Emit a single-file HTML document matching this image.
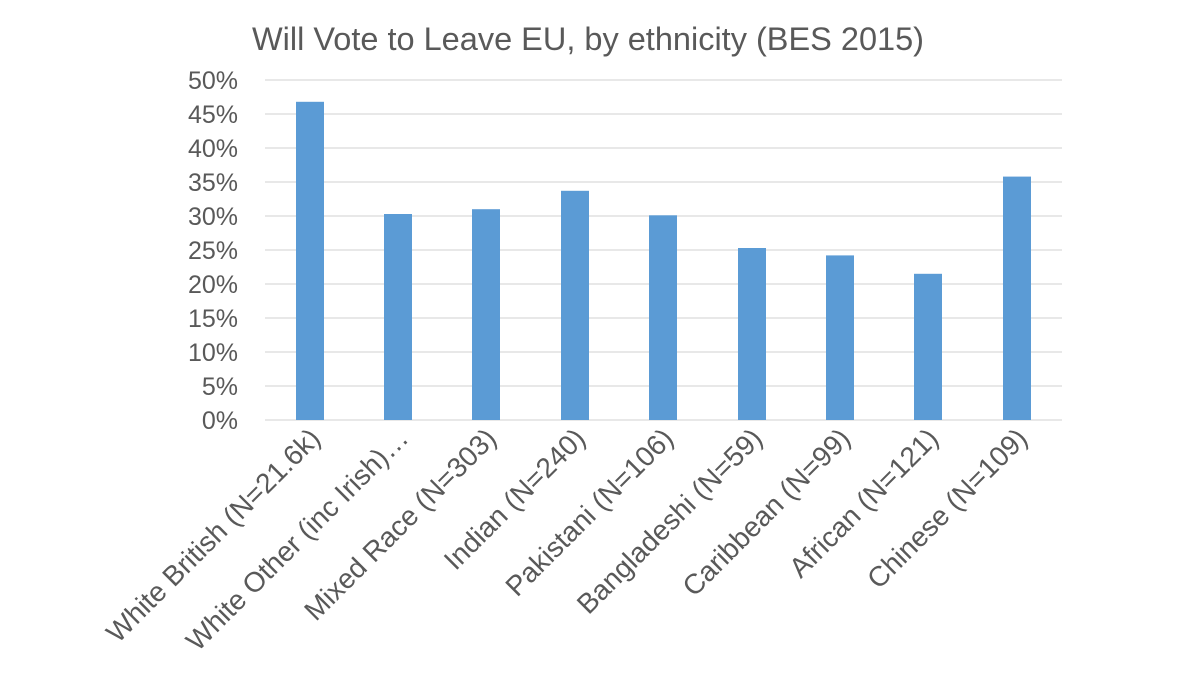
<!DOCTYPE html>
<html><head><meta charset="utf-8"><style>
body{margin:0;background:#fff;}
svg text{font-family:"Liberation Sans",sans-serif;fill:#595959;}
</style></head><body>
<svg width="1200" height="675" viewBox="0 0 1200 675" xmlns="http://www.w3.org/2000/svg">
<rect width="1200" height="675" fill="#fff"/>
<text x="588" y="50" font-size="32.5" text-anchor="middle">Will Vote to Leave EU, by ethnicity (BES 2015)</text>
<g stroke="#d9d9d9" stroke-width="1.3">
<line x1="265" x2="1062" y1="80" y2="80"/>
<line x1="265" x2="1062" y1="114" y2="114"/>
<line x1="265" x2="1062" y1="148" y2="148"/>
<line x1="265" x2="1062" y1="182" y2="182"/>
<line x1="265" x2="1062" y1="216" y2="216"/>
<line x1="265" x2="1062" y1="250" y2="250"/>
<line x1="265" x2="1062" y1="284" y2="284"/>
<line x1="265" x2="1062" y1="318" y2="318"/>
<line x1="265" x2="1062" y1="352" y2="352"/>
<line x1="265" x2="1062" y1="386" y2="386"/>
<line x1="265" x2="1062" y1="420" y2="420"/>
</g>
<g font-size="25" text-anchor="end">
<text x="238" y="89">50%</text><text x="238" y="123">45%</text><text x="238" y="157">40%</text>
<text x="238" y="191">35%</text><text x="238" y="225">30%</text><text x="238" y="259">25%</text>
<text x="238" y="293">20%</text><text x="238" y="327">15%</text><text x="238" y="361">10%</text>
<text x="238" y="395">5%</text><text x="238" y="429">0%</text>
</g>
<g fill="#5b9bd5">
<rect x="296" y="101.8" width="28" height="318.2"/>
<rect x="384" y="214" width="28" height="206"/>
<rect x="472" y="209.2" width="28" height="210.8"/>
<rect x="561" y="190.8" width="28" height="229.2"/>
<rect x="649" y="215.3" width="28" height="204.7"/>
<rect x="738" y="248" width="28" height="172"/>
<rect x="826" y="255.4" width="28" height="164.6"/>
<rect x="914" y="273.8" width="28" height="146.2"/>
<rect x="1003" y="176.6" width="28" height="243.4"/>
</g>
<g font-size="28" text-anchor="end">
<text transform="translate(322,440) rotate(-45)">White British (N=21.6k)</text>
<text transform="translate(410,440) rotate(-45)">White Other (inc Irish)…</text>
<text transform="translate(498,440) rotate(-45)">Mixed Race (N=303)</text>
<text transform="translate(587,440) rotate(-45)">Indian (N=240)</text>
<text transform="translate(675,440) rotate(-45)">Pakistani (N=106)</text>
<text transform="translate(764,440) rotate(-45)">Bangladeshi (N=59)</text>
<text transform="translate(852,440) rotate(-45)">Caribbean (N=99)</text>
<text transform="translate(940,440) rotate(-45)">African (N=121)</text>
<text transform="translate(1029,440) rotate(-45)">Chinese (N=109)</text>
</g>
</svg>
</body></html>
